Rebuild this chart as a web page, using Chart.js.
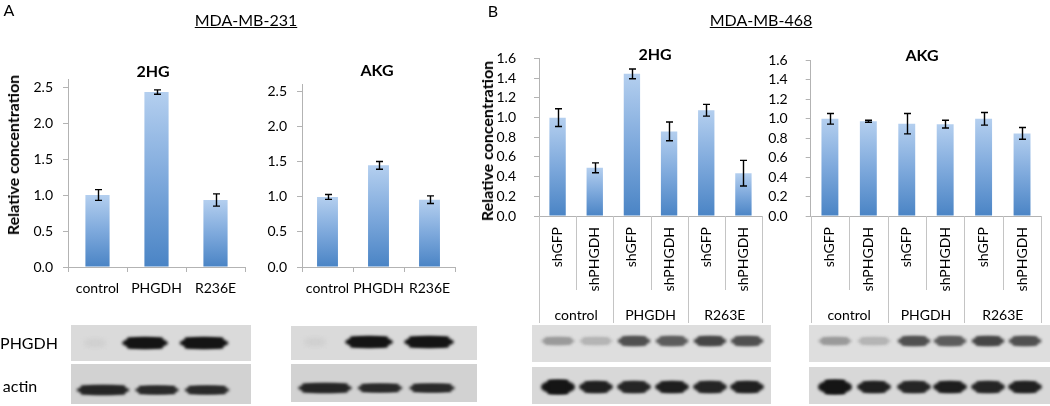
<!DOCTYPE html>
<html><head><meta charset="utf-8">
<script src="https://cdn.jsdelivr.net/npm/chart.js@4.4.1/dist/chart.umd.min.js"></script>
<style>
body{margin:0;width:1050px;height:406px;overflow:hidden;background:#fff;font-family:Lato,'Open Sans',sans-serif;position:relative}
canvas{position:absolute}
.t{position:absolute;white-space:nowrap;color:#000;line-height:1;transform:translate(-50%,-50%)}
.rot{transform:translate(-50%,-50%) rotate(-90deg)}
.b{font-weight:bold}
.u{text-decoration:underline}
</style></head><body>
<canvas id="blots" width="1050" height="406" style="left:0;top:0"></canvas>
<canvas id="cA1" width="260" height="300" style="left:0;top:0"></canvas>
<canvas id="cA2" width="230" height="300" style="left:240px;top:0"></canvas>
<canvas id="cB1" width="290" height="330" style="left:490px;top:0"></canvas>
<canvas id="cB2" width="290" height="330" style="left:760px;top:0"></canvas>

<div class="t" style="left:9px;top:10px;font-size:16px">A</div>
<div class="t u" style="left:246px;top:20px;font-size:16px">MDA-MB-231</div>
<div class="t" style="left:493px;top:11px;font-size:16px">B</div>
<div class="t u" style="left:761px;top:20px;font-size:16px">MDA-MB-468</div>
<div class="t b" style="left:153px;top:71px;font-size:16px">2HG</div>
<div class="t b" style="left:377px;top:70px;font-size:16px">AKG</div>
<div class="t b" style="left:655px;top:54px;font-size:16px">2HG</div>
<div class="t b" style="left:922px;top:55px;font-size:16px">AKG</div>
<div class="t b rot" style="left:13px;top:155px;font-size:16px">Relative concentration</div>
<div class="t b rot" style="left:487px;top:141px;font-size:16px">Relative concentration</div>
<div class="t" style="left:29px;top:343px;font-size:16px">PHGDH</div>
<div class="t" style="left:20px;top:386px;font-size:16px">actin</div>

<script>
// ---------- data ----------
const catsA = ['control', 'PHGDH', 'R236E'];
const a2hg = [1.0, 2.43, 0.93];
const a2hgErr = [0.075, 0.03, 0.085];
const aAkg = [1.0, 1.45, 0.96];
const aAkgErr = [0.035, 0.055, 0.055];
const yTicksA = [0, 0.5, 1.0, 1.5, 2.0, 2.5];

const subB = ['shGFP', 'shPHGDH', 'shGFP', 'shPHGDH', 'shGFP', 'shPHGDH'];
const groupsB = ['control', 'PHGDH', 'R263E'];
const b2hg = [1.0, 0.49, 1.445, 0.86, 1.075, 0.435];
const b2hgErr = [0.09, 0.05, 0.05, 0.095, 0.06, 0.13];
const bAkg = [1.0, 0.975, 0.95, 0.945, 1.0, 0.85];
const bAkgErr = [0.055, 0.01, 0.105, 0.04, 0.065, 0.06];
const yTicksB = [0, 0.2, 0.4, 0.6, 0.8, 1.0, 1.2, 1.4, 1.6];

// ---------- helpers ----------
const FONT = 'Lato, "Open Sans", sans-serif';
const AXIS = '#b3b3b3';

function barGrad(c) {
  const chart = c.chart, ys = chart.scales.y;
  if (!chart.chartArea || !ys || c.raw == null) return '#7aa6da';
  const top = ys.getPixelForValue(c.raw), base = ys.getPixelForValue(0);
  const g = chart.ctx.createLinearGradient(0, top, 0, base);
  g.addColorStop(0, '#b4cfef');
  g.addColorStop(0.5, '#7ea9dc');
  g.addColorStop(1, '#4a84c5');
  return g;
}

const errPlugin = {
  id: 'errbars',
  afterDatasetsDraw(chart, args, o) {
    if (!o.errors) return;
    const ctx = chart.ctx, ys = chart.scales.y, meta = chart.getDatasetMeta(0);
    const vals = chart.data.datasets[0].data;
    ctx.save();
    ctx.strokeStyle = '#000'; ctx.lineWidth = 1.4;
    meta.data.forEach((bar, i) => {
      const x = Math.round(bar.x) + 0.5;
      const y1 = ys.getPixelForValue(vals[i] + o.errors[i]);
      const y2 = ys.getPixelForValue(vals[i] - o.errors[i]);
      ctx.beginPath();
      ctx.moveTo(x, y1); ctx.lineTo(x, y2);
      ctx.moveTo(x - 3.5, y1); ctx.lineTo(x + 3.5, y1);
      ctx.moveTo(x - 3.5, y2); ctx.lineTo(x + 3.5, y2);
      ctx.stroke();
    });
    ctx.restore();
  }
};

const sepPlugin = {
  id: 'seps',
  afterDraw(chart, args, o) {
    if (!o.on) return;
    const ctx = chart.ctx, xs = chart.scales.x, ca = chart.chartArea;
    const n = xs.ticks.length, w = (xs.right - xs.left) / n;
    ctx.save();
    ctx.strokeStyle = '#c4c4c4'; ctx.lineWidth = 1;
    for (let i = 0; i <= n; i++) {
      const px = Math.round(xs.left + i * w) + 0.5;
      ctx.beginPath();
      ctx.moveTo(px, ca.bottom);
      ctx.lineTo(px, i % 2 === 0 ? o.groupEnd : o.subEnd);
      ctx.stroke();
    }
    ctx.restore();
  }
};

function makeA(id, labels, vals, errs, yW, padTop, padRight, barPct) {
  new Chart(document.getElementById(id), {
    type: 'bar',
    data: { labels, datasets: [{ data: vals, backgroundColor: barGrad, borderWidth: 0,
      categoryPercentage: 1, barPercentage: barPct }] },
    options: {
      responsive: false, animation: false,
      layout: { padding: { top: padTop, right: padRight, left: 0, bottom: 3 } },
      plugins: { legend: { display: false }, tooltip: { enabled: false }, errbars: { errors: errs } },
      scales: {
        x: { grid: { display: true, drawOnChartArea: false, tickLength: 5, color: AXIS, offset: true },
             border: { color: AXIS },
             ticks: { color: '#000', font: { family: FONT, size: 14 }, padding: 8, maxRotation: 0, autoSkip: false },
             afterFit: s => { s.height = 30; } },
        y: { min: 0, max: 2.6,
             afterBuildTicks: s => { s.ticks = yTicksA.map(v => ({ value: v })); },
             grid: { display: true, drawOnChartArea: false, tickLength: 5, color: AXIS },
             border: { color: AXIS },
             ticks: { color: '#000', font: { family: FONT, size: 14 }, padding: 10, autoSkip: false, callback: v => Number(v).toFixed(1) },
             afterFit: s => { s.width = yW; } }
      }
    },
    plugins: [errPlugin]
  });
}

function makeB(id, vals, errs, yW, padTop, padRight) {
  new Chart(document.getElementById(id), {
    type: 'bar',
    data: { labels: subB, datasets: [{ data: vals, backgroundColor: barGrad, borderWidth: 0,
      categoryPercentage: 1, barPercentage: 0.44 }] },
    options: {
      responsive: false, animation: false,
      layout: { padding: { top: padTop, right: padRight, left: 0, bottom: 4 } },
      plugins: { legend: { display: false }, tooltip: { enabled: false }, errbars: { errors: errs },
                 seps: { on: true, subEnd: 290, groupEnd: 323 } },
      scales: {
        x: { weight: 0, grid: { display: false, drawTicks: false },
             border: { color: AXIS },
             ticks: { color: '#000', font: { family: FONT, size: 14 }, padding: 11, minRotation: 90, maxRotation: 90, autoSkip: false },
             afterFit: s => { s.height = 80; } },
        x2: { type: 'category', labels: groupsB, position: 'bottom', offset: true, weight: 1,
              grid: { display: false, drawTicks: false }, border: { display: false },
              ticks: { color: '#000', font: { family: FONT, size: 14 }, padding: 11, maxRotation: 0, autoSkip: false },
              afterFit: s => { s.height = 30; } },
        y: { min: 0, max: 1.6,
             afterBuildTicks: s => { s.ticks = yTicksB.map(v => ({ value: v })); },
             grid: { display: true, drawOnChartArea: false, tickLength: 5, color: AXIS },
             border: { color: AXIS },
             ticks: { color: '#000', font: { family: FONT, size: 14 }, padding: 18, autoSkip: false, callback: v => Number(v).toFixed(1) },
             afterFit: s => { s.width = yW; } }
      }
    },
    plugins: [errPlugin, sepPlugin]
  });
}

makeA('cA1', catsA, a2hg, a2hgErr, 68, 79.8, 15, 0.41);
makeA('cA2', catsA, aAkg, aAkgErr, 62, 84.7, 15, 0.41);
makeB('cB1', b2hg, b2hgErr, 49, 58.6, 18);
makeB('cB2', bAkg, bAkgErr, 50.7, 60.5, 2);

// ---------- western blot panels (decorative images) ----------
const bc = document.getElementById('blots').getContext('2d');
function rowBg(x1, x2, y1, y2, col) { bc.fillStyle = col; bc.fillRect(x1, y1, x2 - x1, y2 - y1); }
function band(cx, cy, w, h, col, blur) {
  bc.save();
  bc.filter = 'blur(' + blur + 'px)';
  bc.fillStyle = col;
  bc.beginPath();
  bc.ellipse(cx, cy, w / 2, h / 2, 0, 0, Math.PI * 2);
  bc.fill();
  bc.fillRect(cx - w / 2 + h / 2, cy - h / 2, w - h, h);
  bc.restore();
}
// A left
rowBg(71, 251, 325, 361, '#dadada'); rowBg(71, 251, 364, 404, '#d2d2d2');
band(95, 343, 22, 6, '#d0d0d0', 2);
band(145, 343, 46, 11, '#141414', 1.5); band(204, 343, 49, 11, '#141414', 1.5);
band(103, 390, 53, 9, '#252525', 1.5); band(157, 390, 44, 8, '#2a2a2a', 1.5); band(207, 390, 45, 8, '#2a2a2a', 1.5);
// A right
rowBg(291, 477, 326, 360, '#dadada'); rowBg(291, 477, 364, 402, '#d2d2d2');
band(315, 342, 22, 6, '#d0d0d0', 2);
band(369, 342, 48, 11, '#141414', 1.5); band(429, 342, 50, 11, '#141414', 1.5);
band(325, 388, 54, 9, '#252525', 1.5); band(380, 388, 45, 8, '#2a2a2a', 1.5); band(432, 388, 46, 8, '#2a2a2a', 1.5);
// B left
rowBg(532, 771, 325, 362, '#dedede'); rowBg(532, 771, 367, 404, '#d8d8d8');
const topColB = ['#9a9a9a', '#b4b4b4', '#505050', '#5c5c5c', '#454545', '#505050'];
const botColB = ['#151515', '#202020', '#252525', '#1e1e1e', '#252525', '#202020'];
[558, 596, 634, 672, 710, 747].forEach((x, i) => {
  band(x, 341, 33, i < 2 ? 7 : 9, topColB[i], 1.5);
  band(x, 387, 34, i === 0 ? 14 : 11, botColB[i], 1.5);
});
// B right
rowBg(809, 1050, 325, 362, '#dedede'); rowBg(809, 1050, 367, 404, '#d8d8d8');
[835, 874, 914, 950, 988, 1025].forEach((x, i) => {
  band(x, 341, 33, i < 2 ? 7 : 9, topColB[i], 1.5);
  band(x, 387, 34, i === 0 ? 14 : 11, botColB[i], 1.5);
});
</script>
</body></html>
